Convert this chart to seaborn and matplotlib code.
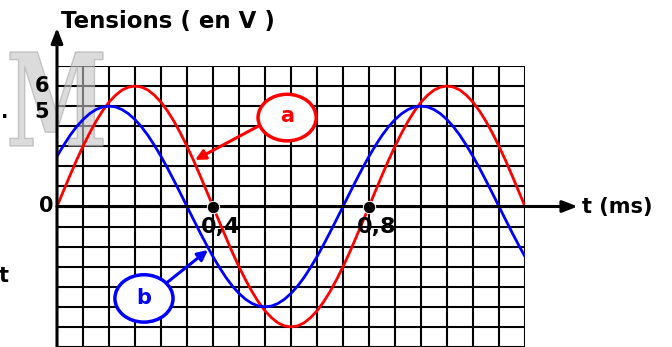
import numpy as np
import pandas as pd
import matplotlib
matplotlib.use("Agg")
import matplotlib.pyplot as plt
import seaborn as sns
from matplotlib.patches import Ellipse, PathPatch
from matplotlib.textpath import TextPath
from matplotlib.font_manager import FontProperties
from matplotlib.transforms import Affine2D

# ---- data (one sample per quarter grid division, 1 div = 1/15 ms) ----
t_ms = [k / 60 for k in range(73)]
u_a = [0, 0.78, 1.55, 2.30, 3.0, 3.65, 4.24, 4.76, 5.20, 5.54, 5.80, 5.95, 6.0,
       5.95, 5.80, 5.54, 5.20, 4.76, 4.24, 3.65, 3.0, 2.30, 1.55, 0.78,
       0, -0.78, -1.55, -2.30, -3.0, -3.65, -4.24, -4.76, -5.20, -5.54, -5.80, -5.95, -6.0,
       -5.95, -5.80, -5.54, -5.20, -4.76, -4.24, -3.65, -3.0, -2.30, -1.55, -0.78,
       0, 0.78, 1.55, 2.30, 3.0, 3.65, 4.24, 4.76, 5.20, 5.54, 5.80, 5.95, 6.0,
       5.95, 5.80, 5.54, 5.20, 4.76, 4.24, 3.65, 3.0, 2.30, 1.55, 0.78, 0]
u_b = [2.5, 3.04, 3.54, 3.97, 4.33, 4.62, 4.83, 4.96, 5.0, 4.96, 4.83, 4.62, 4.33,
       3.97, 3.54, 3.04, 2.5, 1.91, 1.29, 0.65,
       0, -0.65, -1.29, -1.91, -2.5, -3.04, -3.54, -3.97, -4.33, -4.62, -4.83, -4.96, -5.0,
       -4.96, -4.83, -4.62, -4.33, -3.97, -3.54, -3.04, -2.5, -1.91, -1.29, -0.65,
       0, 0.65, 1.29, 1.91, 2.5, 3.04, 3.54, 3.97, 4.33, 4.62, 4.83, 4.96, 5.0,
       4.96, 4.83, 4.62, 4.33, 3.97, 3.54, 3.04, 2.5, 1.91, 1.29, 0.65,
       0, -0.65, -1.29, -1.91, -2.5]
marked_t = [0.4, 0.8]
marked_labels = ["0,4", "0,8"]
y_labels = ["6", "5"]
y_label_pos = [6, 4.7]

df = pd.DataFrame({"t": t_ms * 2, "u": u_a + u_b,
                   "courbe": ["a"] * len(t_ms) + ["b"] * len(t_ms)})

sns.set_style("white")
plt.rcParams['font.family'] = ['DejaVu Sans']
plt.rcParams['text.color'] = 'black'

W, H = 672, 347
fig = plt.figure(figsize=(W / 100, H / 100), dpi=100)
ax = fig.add_axes([57 / W, 0, 468 / W, 281 / H])
ax.set_xlim(0, 1.2)
ax.set_ylim(-6.85, 7)

# grid
ax.set_xticks(np.arange(19) / 15)
ax.set_yticks(np.arange(-7, 8))
ax.grid(True, color="black", lw=1.5, zorder=1)
ax.tick_params(length=0, labelbottom=False, labelleft=False)
for s in ax.spines.values():
    s.set_visible(False)
ax.set_axisbelow(True)

sns.lineplot(data=df, x="t", y="u", hue="courbe", palette={"a": "#ff0000", "b": "#0000ff"},
             lw=2.0, legend=False, ax=ax, zorder=3, sort=False)
ax.set_xlabel("")
ax.set_ylabel("")

# axes with arrows
ax.annotate("", xy=(1.335, 0), xytext=(0, 0), annotation_clip=False,
            arrowprops=dict(arrowstyle="-|>,head_length=0.9,head_width=0.35", color="black", lw=2.2,
                            shrinkA=0, shrinkB=0), zorder=4)
ax.annotate("", xy=(0, 8.9), xytext=(0, -7), annotation_clip=False,
            arrowprops=dict(arrowstyle="-|>,head_length=0.9,head_width=0.35", color="black", lw=2.2,
                            shrinkA=0, shrinkB=0), zorder=4)

ax.text(0.01, 9.2, "Tensions ( en V )", fontsize=16.5, fontweight="bold", ha="left", va="center",
        clip_on=False, zorder=6)
ax.text(1.345, 0, "t (ms)", fontsize=15, fontweight="bold", ha="left", va="center", clip_on=False)
ax.text(-0.028, 0, "0", fontsize=15, fontweight="bold", ha="center", va="center", clip_on=False)
for lab, yy in zip(y_labels, y_label_pos):
    ax.text(-0.038, yy, lab, fontsize=15, fontweight="bold", ha="center", va="center",
            clip_on=False, zorder=6)

sns.scatterplot(x=marked_t, y=[0, 0], color="black", s=80, ax=ax, zorder=5, legend=False)
for tv, lab in zip(marked_t, marked_labels):
    ax.text(tv + 0.02, -1.0, lab, fontsize=16, fontweight="bold", ha="center", va="center", zorder=6)

# annotation a
ax.add_patch(Ellipse((0.59, 4.43), 0.149, 2.32, facecolor="white", edgecolor="#ff0000", lw=2.5, zorder=6))
ax.text(0.59, 4.5, "a", color="#ff0000", fontsize=15, fontweight="bold", ha="center", va="center", zorder=7)
ax.annotate("", xy=(0.354, 2.32), xytext=(0.515, 3.99),
            arrowprops=dict(arrowstyle="-|>,head_length=0.6,head_width=0.3", color="#ff0000", lw=2.2,
                            shrinkA=0, shrinkB=0), zorder=6)
# annotation b
ax.add_patch(Ellipse((0.223, -4.58), 0.149, 2.36, facecolor="white", edgecolor="#0000ff", lw=2.5, zorder=6))
ax.text(0.223, -4.55, "b", color="#0000ff", fontsize=15, fontweight="bold", ha="center", va="center", zorder=7)
ax.annotate("", xy=(0.387, -2.17), xytext=(0.282, -3.79),
            arrowprops=dict(arrowstyle="-|>,head_length=0.6,head_width=0.3", color="#0000ff", lw=2.2,
                            shrinkA=0, shrinkB=0), zorder=6)

# watermark M (above grid, below curves and labels)
tp = TextPath((0, 0), "M", size=1, prop=FontProperties(family="DejaVu Serif", weight="bold"))
bb = tp.get_extents()
tr = (Affine2D().translate(-bb.x0, -bb.y0)
      .scale(93 / bb.width / W, 94 / bb.height / H)
      .translate(10 / W, (H - 146) / H) + fig.transFigure)
ax.add_patch(PathPatch(tp, transform=tr, facecolor="#c4c4c4", edgecolor="#a8a8a8",
                       lw=1, alpha=0.6, zorder=2, clip_on=False))

fig.text(5 / W, 1 - 113 / H, ".", fontsize=14, fontweight="bold", ha="center", va="center")
fig.text(4 / W, 1 - 276 / H, "t", fontsize=15, fontweight="bold", ha="center", va="center")

fig.savefig("out.png", dpi=100)
